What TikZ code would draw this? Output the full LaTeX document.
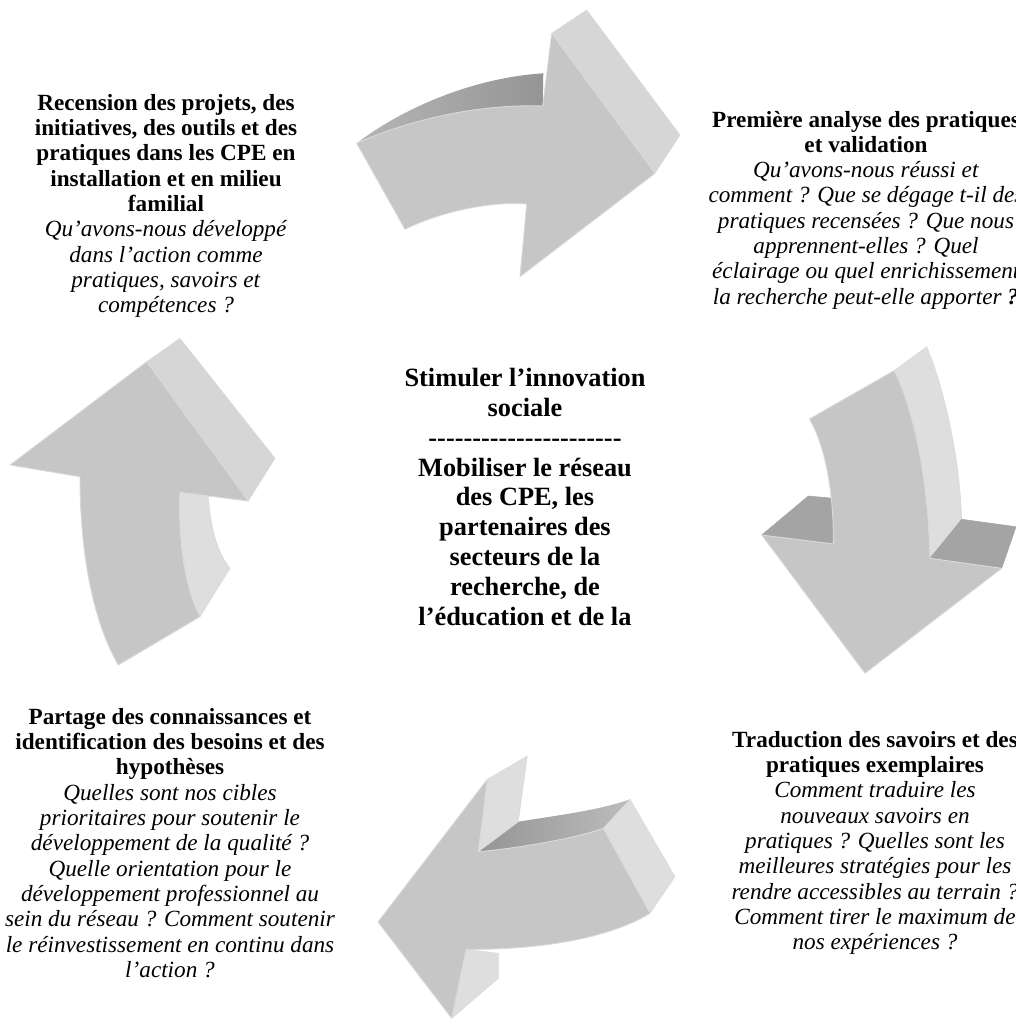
\documentclass[tikz,border=0pt]{standalone}
\usepackage{fontspec}
\setmainfont{Liberation Serif}
\usepackage{tikz}

\definecolor{facegray}{HTML}{C6C6C6}
\definecolor{sidegray}{HTML}{D6D6D6}
\definecolor{palegray}{HTML}{DEDEDE}
\definecolor{darkgray}{HTML}{A4A4A4}
\definecolor{edgegray}{HTML}{DADADA}

\tikzset{
  front/.style={fill=facegray, draw=edgegray, line width=0.5pt, line join=round},
  side/.style={fill=sidegray, draw=edgegray, line width=0.3pt, line join=round},
  paleside/.style={fill=palegray, draw=edgegray, line width=0.3pt, line join=round},
  backside/.style={fill=darkgray, draw=darkgray, line width=0.3pt, line join=round},
  sidetext/.style={align=center, inner sep=0pt, font=\fontsize{13.2}{14.4}\selectfont},
  hubtext/.style={align=center, inner sep=0pt, font=\fontsize{15}{17}\selectfont\bfseries}
}

\begin{document}
\begin{tikzpicture}[x=0.02cm, y=-0.02cm]
    \useasboundingbox (0,0) rectangle (1016,1019);

    % top arrow
    \shade[left color=facegray!92!black, right color=facegray!75!black]
        (356.7,143.3) .. controls (400,110) and (470,78) .. (543.3,73.3)
        -- (542.7,106) .. controls (490,104) and (420,115) .. (356.7,143.3) -- cycle;
    \draw[side] (551.7,33.3) -- (586.7,10) -- (680,135) -- (655,173.3) -- cycle;
    \draw[front] (356.7,143.3) -- (405,229.3) .. controls (440,212) and (490,201) .. (526.7,204)
        -- (520,276.7) -- (655,173.3) -- (551.7,33.3) -- (542.7,106)
        .. controls (490,104) and (420,115) .. (356.7,143.3) -- cycle;

    % right arrow
    \draw[paleside] (894,370.7) -- (926.7,346.7) .. controls (945,390) and (960,460) .. (961.7,519.3)
        -- (930,558.3) .. controls (928,470) and (910,400) .. (894,370.7) -- cycle;
    \draw[backside] (761.7,535) -- (808.3,496) -- (833.3,498.3) -- (833.3,544) -- cycle;
    \draw[backside] (930,558.3) -- (961.7,519.3) -- (1016,526.7) -- (1001.7,568.3) -- cycle;
    \draw[front] (809.3,419) -- (894,370.7) .. controls (910,400) and (928,470) .. (930,558.3)
        -- (1001.7,568.3) -- (865,673.3) -- (761.7,535) -- (833.3,544)
        .. controls (834,505) and (828,450) .. (809.3,419) -- cycle;

    % bottom arrow
    \shade[left color=facegray!75!black, right color=facegray!95!black]
        (478.3,851.7) -- (518.3,821.7) .. controls (560,815) and (600,810) .. (630,799.3)
        -- (603.3,828.3) .. controls (570,840) and (510,849) .. (478.3,851.7) -- cycle;
    \draw[paleside] (487.3,779.3) -- (527.3,756) -- (518.3,821.7) -- (478.3,851.7) -- cycle;
    \draw[paleside] (603.3,828.3) -- (630,799.3) -- (675,876.7) -- (650,913.3) -- cycle;
    \draw[paleside] (466,949.3) -- (498.3,953.3) -- (498.3,978.3) -- (451.7,1018.3) -- cycle;
    \draw[front] (603.3,828.3) -- (650,913.3) .. controls (620,932) and (560,950) .. (466,949.3)
        -- (451.7,1018.3) -- (378,922) -- (487.3,779.3) -- (478.3,851.7)
        .. controls (510,849) and (570,840) .. (603.3,828.3) -- cycle;

    % left arrow
    \draw[side] (146.7,361.7) -- (180,338.3) -- (275,458.3) -- (248.3,501) -- cycle;
    \draw[paleside] (180,492.3) -- (208.3,496.7) .. controls (210,520) and (215,550) .. (230,568.3)
        -- (200,616.7) .. controls (183,585) and (178,530) .. (180,492.3) -- cycle;
    \draw[front] (10,465) -- (146.7,361.7) -- (248.3,501) -- (180,492.3)
        .. controls (178,530) and (183,585) .. (200,616.7) -- (118.3,665)
        .. controls (95,625) and (80,560) .. (80,476.7) -- cycle;

    % texts
    \node[sidetext] (recension) at (166,206) {\textbf{Recension des projets, des}\\
        \textbf{initiatives, des outils et des}\\ \textbf{pratiques dans les CPE en}\\
        \textbf{installation et en milieu}\\ \textbf{familial}\\
        \textit{Qu’avons-nous développé}\\ \textit{dans l’action comme}\\
        \textit{pratiques, savoirs et}\\ \textit{compétences ?}};
    \node[sidetext] (analyse) at (866,210) {\textbf{Première analyse des pratiques}\\
        \textbf{et validation}\\ \textit{Qu’avons-nous réussi et}\\
        \textit{comment ? Que se dégage t-il des}\\ \textit{pratiques recensées ? Que nous}\\
        \textit{apprennent-elles ? Quel}\\ \textit{éclairage ou quel enrichissement}\\
        \textit{la recherche peut-elle apporter }\textbf{\textit{?}}};
    \node[hubtext] (hub) at (525,497) {Stimuler l’innovation\\ sociale\\
        {-}{-}{-}{-}{-}{-}{-}{-}{-}{-}{-}{-}{-}{-}{-}{-}{-}{-}{-}{-}{-}{-}\\
        Mobiliser le réseau\\ des CPE, les\\ partenaires des\\ secteurs de la\\
        recherche, de\\ l’éducation et de la};
    \node[sidetext] (partage) at (170,843) {\textbf{Partage des connaissances et}\\
        \textbf{identification des besoins et des}\\ \textbf{hypothèses}\\
        \textit{Quelles sont nos cibles}\\ \textit{prioritaires pour soutenir le}\\
        \textit{développement de la qualité ?}\\ \textit{Quelle orientation pour le}\\
        \textit{développement professionnel au}\\ \textit{sein du réseau ? Comment soutenir}\\
        \textit{le réinvestissement en continu dans}\\ \textit{l’action ?}};
    \node[sidetext] (traduction) at (875,843) {\textbf{Traduction des savoirs et des}\\
        \textbf{pratiques exemplaires}\\ \textit{Comment traduire les}\\
        \textit{nouveaux savoirs en}\\ \textit{pratiques ? Quelles sont les}\\
        \textit{meilleures stratégies pour les}\\ \textit{rendre accessibles au terrain ?}\\
        \textit{Comment tirer le maximum de}\\ \textit{nos expériences ?}};
\end{tikzpicture}
\end{document}
